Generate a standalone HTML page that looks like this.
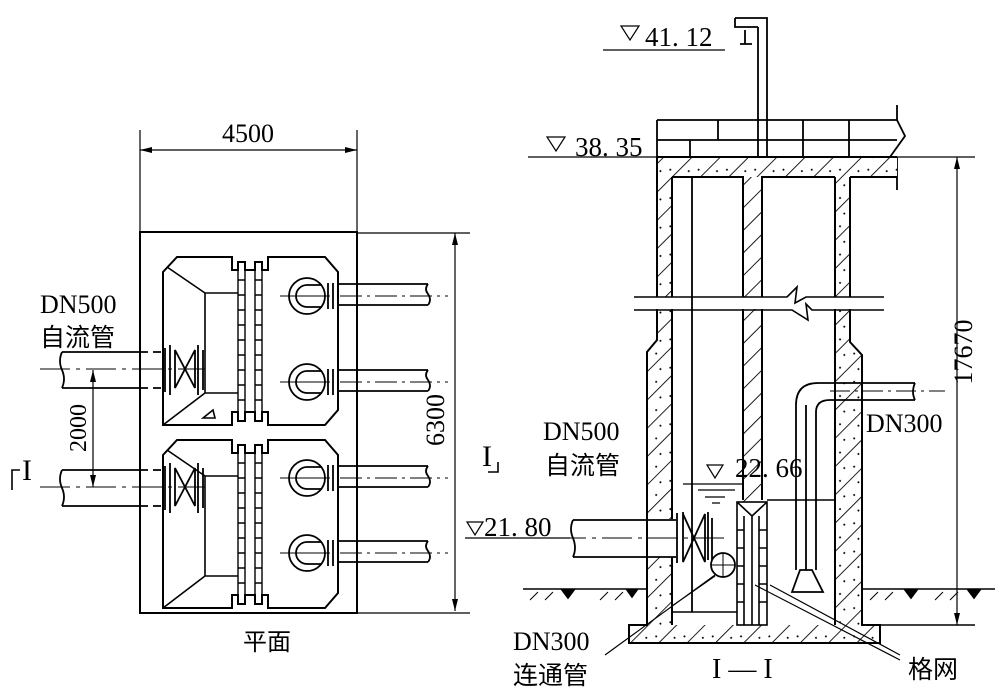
<!DOCTYPE html>
<html><head><meta charset="utf-8"><style>
html,body{margin:0;padding:0;background:#fff}
svg{display:block}
text{font-family:"Liberation Serif","Noto Serif CJK SC",serif;fill:#000}
.cj{font-family:"Liberation Serif","Noto Sans CJK SC",sans-serif}
</style></head><body>
<svg width="1000" height="691" viewBox="0 0 1000 691" xmlns="http://www.w3.org/2000/svg">
<defs>
<pattern id="h" width="20" height="20" patternUnits="userSpaceOnUse" patternTransform="rotate(-45)">
<rect width="20" height="20" fill="#fff"/><line x1="0" y1="0" x2="20" y2="0" stroke="#000" stroke-width="1.8"/>
<circle cx="6" cy="8" r="1" fill="#000"/><circle cx="14" cy="14" r="1" fill="#000"/>
</pattern>
<pattern id="h2" width="16" height="16" patternUnits="userSpaceOnUse" patternTransform="rotate(-45)">
<rect width="16" height="16" fill="#fff"/><line x1="0" y1="0" x2="16" y2="0" stroke="#000" stroke-width="1.8"/>
</pattern>
</defs>
<g fill="none" stroke="#000" stroke-width="2">
<!-- PLAN -->
<rect x="140" y="232" width="217" height="381"/>
<g stroke-width="1.2">
<line x1="140" y1="130" x2="140" y2="232"/><line x1="357" y1="130" x2="357" y2="232"/>
<line x1="140" y1="150" x2="357" y2="150"/>
<line x1="357" y1="233" x2="470" y2="233"/><line x1="357" y1="613" x2="470" y2="613"/>
<line x1="455" y1="233" x2="455" y2="611"/>
<line x1="93" y1="370" x2="93" y2="487"/>
</g>
<g fill="#000" stroke="none">
<path d="M140,150 l12,-3 v6z M357,150 l-12,-3 v6z M455,233 l-3,12 h6z M455,611 l-3,-12 h6z M93,370 l-3,12 h6z M93,487 l-3,-12 h6z"/>
</g>
<g id="unit">
<path d="M163,272 L177,257 H232 V270 H238 V262 H245 V270 H255 V262 H262 V270 H268 V257 H325 L338,272 V410 L325,425 H268 V412 H262 V421 H255 V412 H245 V421 H238 V412 H232 V425 H163 Z"/>
<path d="M167,267 L205,293 V393 L163,425 M205,293 H238 M205,393 H238" stroke-width="1.6"/>
<g stroke-width="1.4">
<rect x="238" y="262" width="7" height="159"/><rect x="255" y="262" width="7" height="159"/>
<path d="M238,280h7M238,295h7M238,310h7M238,325h7M238,340h7M238,355h7M238,370h7M238,385h7M238,400h7M255,280h7M255,295h7M255,310h7M255,325h7M255,340h7M255,355h7M255,370h7M255,385h7M255,400h7"/>
</g>
</g>
<use href="#unit" transform="translate(0,183)"/>
<path d="M203,418 l10,-8 l2,8z" stroke-width="1.6"/>
<g id="pump" stroke-width="1.8">
<circle cx="307" cy="296" r="18"/>
<path d="M322,285 H307 A11,11 0 0 0 307,307 H322" />
<line x1="280" y1="296" x2="330" y2="296" stroke-width="1"/>
<path d="M328,283 V309 M333,283 V309 M338,287 V305" />
<path d="M338,284 H428 M338,305 H428 M428,284 q-4,5 0,10 q4,6 0,11" />
<line x1="340" y1="296" x2="448" y2="296" stroke-width="1" stroke-dasharray="22,5,3,5"/>
</g>
<use href="#pump" transform="translate(0,86)"/>
<use href="#pump" transform="translate(0,182)"/>
<use href="#pump" transform="translate(0,257)"/>
<g id="inl" stroke-width="1.8">
<path d="M62,352 H140 M62,388 H140 M62,352 q-4,9 0,18 q4,9 0,18"/>
<path d="M140,352 H165 M140,388 H165" stroke-dasharray="8,5"/>
<line x1="40" y1="369" x2="205" y2="369" stroke-width="1" stroke-dasharray="30,6,4,6"/>
<path d="M165,348 V392 M170,345 V395 M175,350 L195,388 V350 L175,388 Z M198,345 V395 M203,350 V390"/>
</g>
<use href="#inl" transform="translate(0,118)"/>
<path d="M12,490 V470 H20" stroke-width="1.6"/>
<!-- SECTION -->
<g stroke-width="1.8">
<path d="M657,120 H897 M657,140 H897 M657,157 V120 M718,120 V140 M803,120 V157 M849,120 V157 M690,140 V157"/>
<path d="M897,105 V120 L905,136 L890,157 M897,157 V190"/>
<path d="M735,18 H767 V157 M758,27 V157 M735,18 V27 H758 M745,30 V44 M740,44 H752" />
<line x1="528" y1="157" x2="975" y2="157" stroke-width="1.2"/>
<line x1="603" y1="50" x2="725" y2="50" stroke-width="1.2"/>
</g>
<path d="M657,157 H897 V177 H850 V342 L862,355 V625 H880 V643 H629 V625 H647 V352 L657,340 Z" fill="url(#h)" stroke="none"/>
<path d="M672,177 H743 V500 H737 V625 H672 Z M762,177 H835 V625 H767 V500 H762 Z" fill="#fff" stroke="none"/>
<path d="M743,177 H762 V500 H743 Z" fill="url(#h2)" stroke="none"/>
<path d="M657,157 H897 M850,177 H897 M657,157 V340 L647,352 V625 H629 V643 H880 V625 H862 V355 L850,342 V177 M672,177 V625 M835,177 V625 M672,177 H743 V500 M762,500 V177 H835"/>
<rect x="630" y="297" width="260" height="12" fill="#fff" stroke="none"/>
<path d="M634,297 H787 L797,287 L795,303 L806,297 H884 M634,310 H792 L808,320 L806,304 L812,310 H884" stroke-width="1.6"/>
<line x1="692" y1="177" x2="692" y2="612" stroke-width="1.8"/>
<path d="M672,612 H737 M672,612 V625" stroke-width="1.6"/>
<path d="M767,500 H835" stroke-width="1.4"/>
<g stroke-width="1.6">
<rect x="737" y="502" width="30" height="123" fill="#fff"/>
<path d="M737,502 L752,516 L767,502 M752,516 V625 M744,516 V625 M759,516 V625"/>
<path d="M737,530h7M737,548h7M737,566h7M737,584h7M737,602h7M759,530h8M759,548h8M759,566h8M759,584h8M759,602h8"/>
</g>
<g stroke-width="1.8">
<rect x="648" y="519" width="26" height="38" fill="#fff" stroke="none"/>
<path d="M573,520 H676 M573,557 H676 M573,520 q-4,9 0,18 q4,10 0,19"/>
<line x1="510" y1="538" x2="730" y2="538" stroke-width="1" stroke-dasharray="30,6,4,6"/>
<path d="M677,513 V563 M683,512 V562 L705,514 V562 L683,514 Z M708,512 V560 M712,518 V565"/>
<circle cx="723" cy="565" r="12" fill="#fff"/>
<path d="M711,565 H735 M723,553 V577" stroke-width="1"/>
<path d="M715,576 L672,606 M755,585 L900,660 M770,585 L900,655 M715,575 L605,655" stroke-width="1.2"/>
</g>
<g stroke-width="1.2">
<path d="M683,484 H743 M698,490 H735 M705,497 H725 M712,503 H720"/>
<path d="M707,465 h16 l-8,13z"/>
<line x1="465" y1="538" x2="570" y2="538"/>
<path d="M467,522 h16 l-8,13z"/>
<path d="M621,26 h18 l-9,14z M547,137 h18 l-9,14z"/>
</g>
<g stroke-width="1.8">
<path d="M796,570 V405 Q796,383 818,383 H915 M816,570 V412 Q816,400 830,400 H915 M915,383 q-4,9 0,17 M792,592 L800,570 H812 L823,592 Z M806,570 V405"/>
<line x1="830" y1="391" x2="945" y2="391" stroke-width="1" stroke-dasharray="20,5,3,5"/>
</g>
<g stroke-width="1.6">
<path d="M523,589 H647 M862,589 H995 M862,625 H975"/>
<path d="M530,600l8,-8M545,600l8,-8M600,600l8,-8M615,600l8,-8M870,600l8,-8M885,600l8,-8M935,600l8,-8M950,600l8,-8" stroke-width="1"/>
<path d="M562,590 l12,0 l-6,8z M627,590 l10,0 l-5,7z M905,590 l12,0 l-6,8z M968,590 l12,0 l-6,8z" fill="#000"/>
</g>
<line x1="957" y1="157" x2="957" y2="625" stroke-width="1.2"/>
<path d="M957,157 l-3,12 h6z M957,625 l-3,-12 h6z" fill="#000" stroke="none"/>
</g>
<!-- TEXT -->
<text x="248" y="142" font-size="26" text-anchor="middle">4500</text>
<text transform="translate(444,420) rotate(-90)" font-size="26" text-anchor="middle">6300</text>
<text transform="translate(86,428) rotate(-90)" font-size="24" text-anchor="middle">2000</text>
<text x="40" y="313" font-size="26">DN500</text>
<text x="40" y="346" font-size="25" class="cj">自流管</text>
<text x="22" y="480" font-size="30">I</text>
<text x="482" y="466" font-size="30">I</text>
<path d="M488,472 H498 V462" fill="none" stroke="#000" stroke-width="1.6"/>
<text x="243" y="650" font-size="24" class="cj">平面</text>
<text x="645" y="46" font-size="27">41. 12</text>
<text x="575" y="156" font-size="27">38. 35</text>
<text x="735" y="477" font-size="27">22. 66</text>
<text x="484" y="536" font-size="27">21. 80</text>
<text x="543" y="440" font-size="26">DN500</text>
<text x="545" y="474" font-size="25" class="cj">自流管</text>
<text x="866" y="432" font-size="26">DN300</text>
<text transform="translate(972,352) rotate(-90)" font-size="26" text-anchor="middle">17670</text>
<text x="513" y="650" font-size="26">DN300</text>
<text x="513" y="684" font-size="25" class="cj">连通管</text>
<text x="712" y="678" font-size="28">I — I</text>
<text x="908" y="678" font-size="25" class="cj">格网</text>
</svg>
</body></html>
